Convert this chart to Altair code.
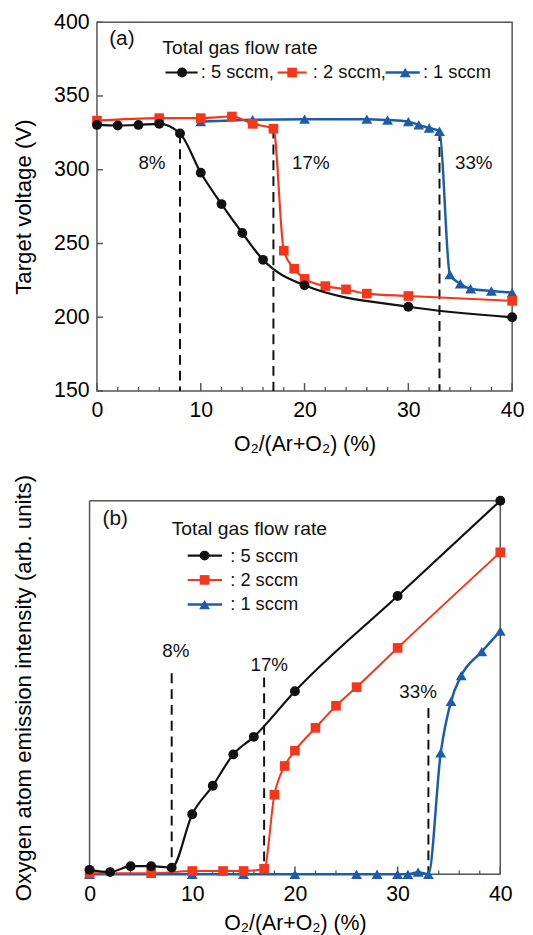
import altair as alt
import pandas as pd

FONT = "Liberation Sans"
BLACK = "#111111"
RED = "#f4361b"
BLUE = "#1d5ca8"
FRAME = "#555555"

# ---------------- panel (a): target voltage ----------------
a_x5 = [0, 2, 4, 6, 8, 10, 12, 14, 16, 20, 30, 40]
a_y5 = [330.4, 330, 330.4, 331.1, 324.6, 298, 276.7, 257.1, 238.9, 221.6, 207.1, 200]
a_x2 = [0, 6, 10, 13, 15, 17, 18, 19, 20, 22, 24, 26, 30, 40]
a_y2 = [333.3, 335, 335, 336.1, 331.1, 327.8, 245.1, 232.9, 226, 221.1, 218.9, 216, 214.4, 211.1]
a_x1 = [10, 15, 20, 26, 28, 30, 31, 32, 33, 34, 35, 36, 38, 40]
a_y1 = [332.6, 333.9, 334.3, 334.3, 333.7, 332.6, 330.4, 328.3, 326.1, 228.9, 222.7, 219.3, 217.8, 216.7]

# ---------------- panel (b): O emission intensity ----------------
b_x5 = [0, 2, 4, 6, 8, 10, 12, 14, 16, 20, 30, 40]
b_y5 = [1.2, 0.6, 2.2, 2.2, 1.8, 16.1, 23.7, 32.1, 36.8, 49.0, 74.5, 100]
b_x2 = [0, 6, 10, 13, 15, 17, 18, 19, 20, 22, 24, 26, 30, 40]
b_y2 = [0.3, 0.3, 0.9, 0.9, 0.9, 1.5, 21.3, 29.0, 33.1, 39.2, 45.1, 50.1, 60.6, 86.2]
b_x1 = [0, 10, 15, 20, 26, 28, 30, 31, 32, 33, 34.2, 35.2, 36.2, 38.2, 40]
b_y1 = [0, 0, 0, 0, 0, 0, 0, 0, 0.6, 0, 32.5, 46.3, 53.2, 59.6, 65.1]

transitions = [8, 17, 33]
trans_labels = ["8%", "17%", "33%"]
a_dash_top = [324.6, 327.8, 326.1]
b_dash_top = [53.8, 52.7, 44.5]

legend_title = "Total gas flow rate"
a_legend_labels = [": 5 sccm,", ": 2 sccm,", ": 1 sccm"]
b_legend_labels = [": 5 sccm", ": 2 sccm", ": 1 sccm"]

x_labels = [0, 10, 20, 30, 40]
x_minor = [2, 4, 6, 8, 12, 14, 16, 18, 22, 24, 26, 28, 32, 34, 36, 38]
a_y_labels = [150, 200, 250, 300, 350, 400]

XTITLE = "O\u2082/(Ar+O\u2082) (%)"


def make_panel(W, H, xs_sc, ys_sc, xaxis, yaxis, series, dash_top, ylow,
               pct_pos, tag, tag_pos, legend_spec, yticks, frame=None):
    def X(f):
        return alt.X(f, type="quantitative", scale=xs_sc, axis=xaxis)

    def Y(f):
        return alt.Y(f, type="quantitative", scale=ys_sc, axis=yaxis)

    one = pd.DataFrame({"_": [0]})
    layers = []
    if frame is not None:
        x0, x1 = frame
        fr = dict(color=FRAME, strokeWidth=1.5)
        layers.append(alt.Chart(one).mark_rule(**fr).encode(
            x=alt.value(x0), y=alt.value(0), y2=alt.value(H)))
        layers.append(alt.Chart(one).mark_rule(**fr).encode(
            x=alt.value(x1), y=alt.value(0), y2=alt.value(H)))
        layers.append(alt.Chart(one).mark_rule(**fr).encode(
            x=alt.value(x0), x2=alt.value(x1), y=alt.value(0)))
        layers.append(alt.Chart(one).mark_rule(**fr).encode(
            x=alt.value(x0), x2=alt.value(x1), y=alt.value(H)))
    # x ticks (inward)
    layers.append(alt.Chart(pd.DataFrame({"t": x_labels})).mark_rule(color=FRAME, strokeWidth=1.5)
                  .encode(x=X("t"), y=alt.value(H), y2=alt.value(H - 8)))
    layers.append(alt.Chart(pd.DataFrame({"t": x_minor})).mark_rule(color=FRAME, strokeWidth=1.3)
                  .encode(x=X("t"), y=alt.value(H), y2=alt.value(H - 4)))
    if yticks:
        layers.append(alt.Chart(pd.DataFrame({"t": yticks})).mark_rule(color=FRAME, strokeWidth=1.5)
                      .encode(y=Y("t"), x=alt.value(0), x2=alt.value(6)))
    # dashed transition lines
    ddf = pd.DataFrame({"x": transitions, "top": dash_top, "low": [ylow] * 3})
    layers.append(alt.Chart(ddf).mark_rule(color=BLACK, strokeWidth=2, strokeDash=[10, 6])
                  .encode(x=X("x"), y=Y("top"), y2=alt.Y2("low")))
    # percentage labels
    for lab, (px, py) in zip(trans_labels, pct_pos):
        layers.append(alt.Chart(one).mark_text(text=lab, font=FONT, fontSize=19, color=BLACK,
                                               align="center", baseline="middle")
                      .encode(x=alt.XDatum(px), y=alt.YDatum(py)))
    # series: blue, red, black (black on top)
    for xs, ys, color, shape, size, sw in series:
        df = pd.DataFrame({"x": xs, "y": ys})
        base = alt.Chart(df).encode(x=X("x"), y=Y("y"))
        layers.append(base.mark_line(color=color, strokeWidth=sw, interpolate="monotone"))
        layers.append(base.mark_point(color=color, filled=True, opacity=1, shape=shape, size=size))
    # panel tag
    layers.append(alt.Chart(one).mark_text(text=tag, font=FONT, fontSize=21, color=BLACK,
                                           align="center", baseline="middle")
                  .encode(x=alt.XDatum(tag_pos[0]), y=alt.YDatum(tag_pos[1])))
    # legend
    (tx, ty), rows = legend_spec
    layers.append(alt.Chart(one).mark_text(text=legend_title, font=FONT, fontSize=19.5, color=BLACK,
                                           align="left", baseline="middle")
                  .encode(x=alt.XDatum(tx), y=alt.YDatum(ty)))
    for (x0, x1, xm, xt, yr, lab), (_, _, color, shape, size, sw) in zip(rows, series[::-1]):
        layers.append(alt.Chart(one).mark_rule(color=color, strokeWidth=sw)
                      .encode(x=alt.XDatum(x0), x2=alt.X2Datum(x1), y=alt.YDatum(yr)))
        layers.append(alt.Chart(one).mark_point(color=color, filled=True, opacity=1, shape=shape, size=size)
                      .encode(x=alt.XDatum(xm), y=alt.YDatum(yr)))
        layers.append(alt.Chart(one).mark_text(text=lab, font=FONT, fontSize=18.5, color=BLACK,
                                               align="left", baseline="middle")
                      .encode(x=alt.XDatum(xt), y=alt.YDatum(yr)))
    ch = alt.layer(*layers).properties(width=W, height=H)
    if frame is not None:
        ch = ch.properties(view=alt.ViewBackground(stroke="transparent"))
    return ch


def xaxis_def(title_pad):
    return alt.Axis(values=x_labels, ticks=False, tickSize=0, domain=False, grid=False,
                    labelFontSize=21.5, labelFont=FONT, labelColor="black", labelPadding=9,
                    labelFlush=False, title=XTITLE, titleFont=FONT, titleFontSize=21.5,
                    titleFontWeight="normal", titleColor="black", titlePadding=title_pad)


a_yaxis = alt.Axis(values=a_y_labels, ticks=False, tickSize=0, domain=False, grid=False,
                   labelFontSize=21.5, labelFont=FONT, labelColor="black", labelPadding=8,
                   title="Target voltage (V)", titleFont=FONT, titleFontSize=22.5,
                   titleFontWeight="normal", titleColor="black", titlePadding=18)

b_yaxis = alt.Axis(labels=False, ticks=False, tickSize=0, domain=False, grid=False,
                   title="Oxygen atom emission intensity (arb. units)", titleFont=FONT,
                   titleFontSize=22.5, titleFontWeight="normal", titleColor="black",
                   titlePadding=62)

A_W, A_H = 420, 373
B_W, B_H = 408, 378
B_SHIFT = -7.5

a_xsc = alt.Scale(domain=[0, 40], nice=False, zero=False)
b_xsc = alt.Scale(domain=[0, 40], nice=False, zero=False, range=[B_SHIFT, B_W])
a_ysc = alt.Scale(domain=[150, 400], nice=False, zero=False)
b_ysc = alt.Scale(domain=[0, 100], nice=False, zero=False)

a_series = [
    (a_x1, a_y1, BLUE, "triangle-up", 120, 2.5),
    (a_x2, a_y2, RED, "square", 95, 2.2),
    (a_x5, a_y5, BLACK, "circle", 100, 2.2),
]
b_series = [
    (b_x1, b_y1, BLUE, "triangle-up", 120, 2.5),
    (b_x2, b_y2, RED, "square", 95, 2.0),
    (b_x5, b_y5, BLACK, "circle", 100, 2.2),
]

a_legend = ((6.3, 382.6), [
    (6.6, 9.7, 8.2, 10.0, 365.9, a_legend_labels[0]),
    (17.4, 20.2, 18.8, 20.8, 365.9, a_legend_labels[1]),
    (27.8, 31.1, 29.7, 31.4, 365.9, a_legend_labels[2]),
])
b_legend = ((8.0, 92.4), [
    (9.56, 12.9, 11.2, 13.7, 85.3, b_legend_labels[0]),
    (9.56, 12.9, 11.2, 13.7, 78.8, b_legend_labels[1]),
    (9.56, 12.9, 11.2, 13.7, 72.2, b_legend_labels[2]),
])

top = make_panel(A_W, A_H, a_xsc, a_ysc, xaxis_def(13), a_yaxis, a_series, a_dash_top, 150,
                 [(5.3, 304.3), (20.6, 304.3), (36.3, 304.3)], "(a)", (2.4, 388.7),
                 a_legend, a_y_labels)
bottom = make_panel(B_W, B_H, b_xsc, b_ysc, xaxis_def(8), b_yaxis, b_series, b_dash_top, 0,
                    [(8.4, 59.7), (17.5, 56.0), (32.0, 48.9)], "(b)", (2.5, 95),
                    b_legend, None, frame=(B_SHIFT, B_W))

chart = alt.concat(top, bottom, columns=1, spacing=17).properties(
    padding={"left": 4, "top": -3, "right": 0, "bottom": 0}, background="white"
).configure_view(stroke=FRAME, strokeWidth=1.5, fill="white")

chart.save("out.html", embed_options={"renderer": "svg", "actions": False})
